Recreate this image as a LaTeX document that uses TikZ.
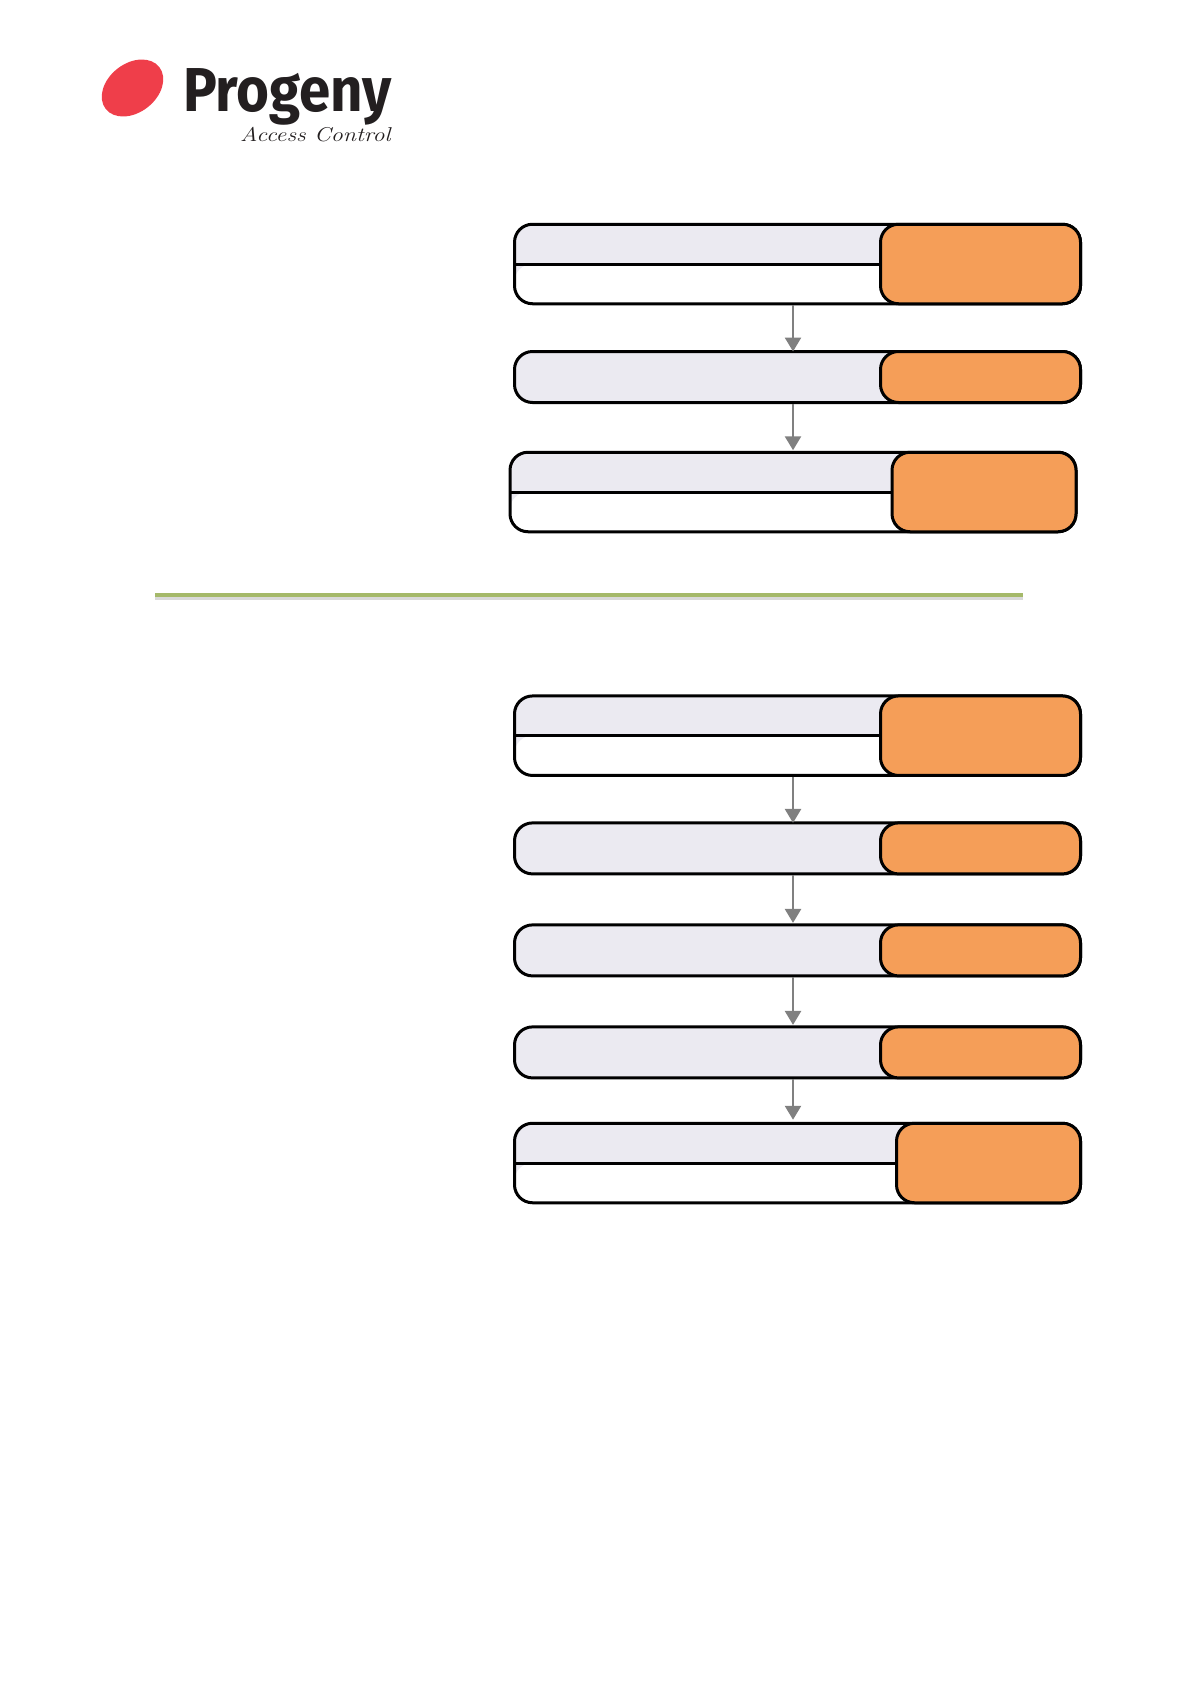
\documentclass[tikz,border=0pt]{standalone}
\usepackage{fontspec}
\usetikzlibrary{arrows.meta,shapes.geometric}
\newfontfamily\logofont{Fira Sans}
\definecolor{panelgrey}{HTML}{EBEAF1}
\definecolor{tagorange}{HTML}{F59E58}
\definecolor{rulegreen}{HTML}{A5B96A}
\definecolor{logored}{HTML}{EF3E4A}
\definecolor{logoink}{HTML}{231F20}
\tikzset{
    panel/.style = {draw = black, line width = 3pt, rounded corners = 18pt, fill = panelgrey, inner sep = 0pt, minimum width = 566pt},
    splitpanel/.style = {panel, minimum height = 79.5pt, path picture = {
        \fill[white] (path picture bounding box.west) rectangle (path picture bounding box.south east);
        \draw[line width = 3pt] (path picture bounding box.west) -- (path picture bounding box.east);
    }},
    tag/.style = {draw = black, line width = 3pt, rounded corners = 18pt, fill = tagorange, inner sep = 0pt},
    flow/.style = {->, draw = gray, line width = 2.6pt, shorten > = -1.5pt}
}
\begin{document}
\begin{tikzpicture}[
        x = 1pt,
        y = 1pt,
        > = {Triangle[length = 14pt, width = 16pt]}
    ]
        \useasboundingbox (0,0) rectangle (1191,-1684);
        \coordinate (spine) at (793,0);

        % logo
        \node[fill = logored, ellipse, rotate = 38, minimum width = 68pt, minimum height = 49pt, inner sep = 0pt] (logomark) at (132.5,-88) {};
        \node[anchor = base west, inner sep = 0pt, text = logoink, xscale = 0.91] (logoname) at (183,-111) {\logofont\bfseries\fontsize{62}{62}\selectfont Progeny};
        \node[anchor = base west, inner sep = 0pt, text = logoink, xscale = 1.2] (logosub) at (240,-141) {\fontsize{20}{20}\selectfont\itshape Access Control};

        % upper group
        \node[splitpanel] (upperA) at (797.5,-264) {};
        \node[tag, minimum width = 200pt, minimum height = 79.5pt] (tagA) at (980.5,-264) {};
        \node[panel, minimum height = 51pt] (upperB) at (797.5,-377) {};
        \node[tag, minimum width = 200pt, minimum height = 51pt] (tagB) at (980.5,-377) {};
        \node[splitpanel] (upperC) at (793,-492) {};
        \node[tag, minimum width = 184pt, minimum height = 79.5pt] (tagC) at (984,-492) {};
        \draw[flow] (upperA.south -| spine) -- (upperB.north -| spine);
        \draw[flow, shorten > = 0.5pt] (upperB.south -| spine) -- (upperC.north -| spine);

        % divider
        \coordinate (ruleL) at (155,-595);
        \coordinate (ruleR) at (1023,-595);
        \draw[gray!30, line width = 4pt] ([yshift = -2.5pt]ruleL) -- ([yshift = -2.5pt]ruleR);
        \draw[rulegreen, line width = 4.5pt] (ruleL) -- (ruleR);

        % lower group
        \node[splitpanel] (lowerA) at (797.5,-735.7) {};
        \node[tag, minimum width = 200pt, minimum height = 79.5pt] (tagD) at (980.5,-735.7) {};
        \node[panel, minimum height = 51pt] (lowerB) at (797.5,-848.4) {};
        \node[tag, minimum width = 200pt, minimum height = 51pt] (tagE) at (980.5,-848.4) {};
        \node[panel, minimum height = 51pt] (lowerC) at (797.5,-950.4) {};
        \node[tag, minimum width = 200pt, minimum height = 51pt] (tagF) at (980.5,-950.4) {};
        \node[panel, minimum height = 51pt] (lowerD) at (797.5,-1052.4) {};
        \node[tag, minimum width = 200pt, minimum height = 51pt] (tagG) at (980.5,-1052.4) {};
        \node[splitpanel] (lowerE) at (797.5,-1163) {};
        \node[tag, minimum width = 184pt, minimum height = 79.5pt] (tagH) at (988.5,-1163) {};
        \draw[flow] (lowerA.south -| spine) -- (lowerB.north -| spine);
        \draw[flow, shorten > = 0.5pt] (lowerB.south -| spine) -- (lowerC.north -| spine);
        \draw[flow, shorten > = 0.5pt] (lowerC.south -| spine) -- (lowerD.north -| spine);
        \draw[flow, shorten > = 2pt] (lowerD.south -| spine) -- (lowerE.north -| spine);
    \end{tikzpicture}
\end{document}
